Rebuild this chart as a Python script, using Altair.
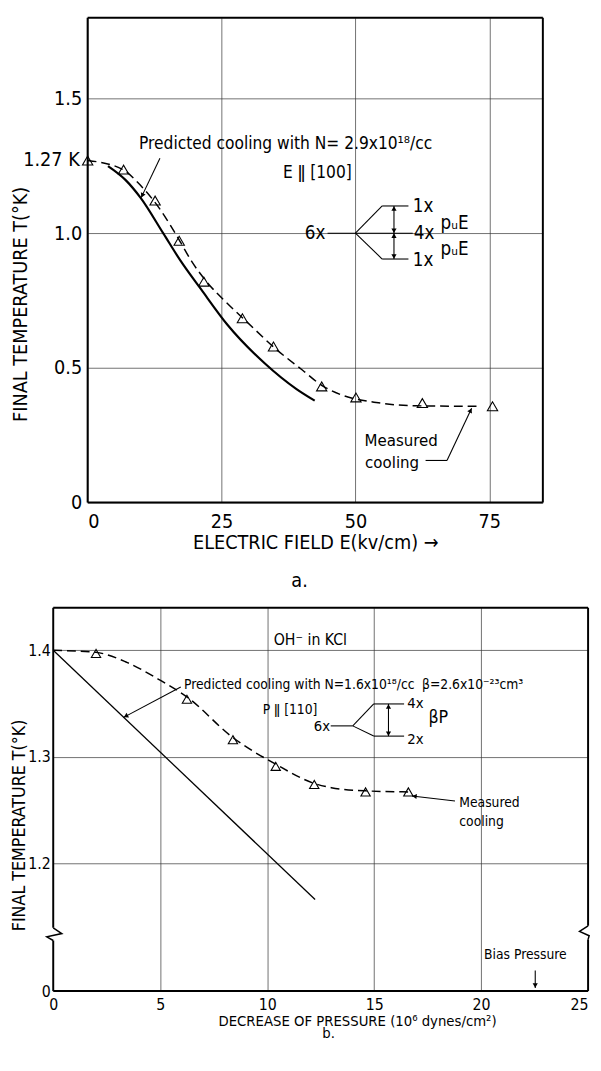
import math
import altair as alt
import pandas as pd

FONT = "Liberation Sans Narrow, DejaVu Sans Condensed, Liberation Sans, sans-serif"

# ---------------- Panel a: electric field ----------------
A_MEAS_X = [0, 6.7, 12.6, 17.1, 21.7, 28.9, 34.7, 43.7, 50.1, 62.5, 75.6]
A_MEAS_Y = [1.27, 1.236, 1.121, 0.972, 0.820, 0.684, 0.579, 0.431, 0.390, 0.369, 0.357]
A_DASH_X = [0, 6.4, 9.9, 13.4, 17.3, 19.4, 22.2, 26.1, 29.6, 35.2, 40.2, 43.7, 47.2, 54.3, 61.3, 73.0]
A_DASH_Y = [1.27, 1.238, 1.177, 1.092, 0.968, 0.896, 0.820, 0.739, 0.673, 0.569, 0.490, 0.435, 0.401, 0.370, 0.359, 0.357]
A_PRED_X = [3.8, 7.1, 9.9, 14.1, 17.4, 21.2, 26.1, 33.1, 39.0, 42.4]
A_PRED_Y = [1.249, 1.197, 1.131, 1.000, 0.896, 0.791, 0.660, 0.516, 0.421, 0.378]
A_XTICKS = [0, 25, 50, 75]
A_YTICKS = [0, 0.5, 1.0, 1.5]
A_XDOM = [0, 85]
A_YDOM = [0, 1.8]
A_FRAME = [(0, 0, 85, 0), (0, 1.8, 85, 1.8), (0, 0, 0, 1.8), (85, 0, 85, 1.8)]
A_DIAGRAM = [(44.8, 1.0, 60.7, 1.0), (50.0, 1.0, 55.0, 1.101), (55.0, 1.101, 59.9, 1.101),
             (50.0, 1.0, 55.0, 0.904), (55.0, 0.904, 59.9, 0.904), (57.2, 0.904, 57.2, 1.101)]
A_ARROWS = [(13.5, 1.278, 10.0, 1.132), (63.1, 0.156, 67.1, 0.156), (67.1, 0.156, 71.7, 0.35)]
# arrow heads: tip x, tip y, from x, from y
A_HEADS = [(10.0, 1.132, 13.5, 1.278), (71.7, 0.35, 67.1, 0.156),
           (57.2, 1.101, 57.2, 1.0), (57.2, 1.0, 57.2, 1.101),
           (57.2, 1.0, 57.2, 0.904), (57.2, 0.904, 57.2, 1.0)]
A_TEXT_PRED = [("Predicted  cooling with N= 2.9x10¹⁸/cc", 9.6, 1.329)]
A_TEXT_LEFT = [("Measured", 51.7, 0.229), ("cooling", 51.8, 0.147)]
A_TEXT_CENTER = [("E ǁ [100]", 42.9, 1.222)]
A_TEXT_DIAG_L = [("1x", 60.7, 1.101), ("4x", 60.9, 1.0), ("1x", 60.7, 0.90),
                 ("pᵤE", 65.9, 1.038), ("pᵤE", 65.9, 0.940)]
A_TEXT_DIAG_R = [("6x", 44.4, 1.0)]
A_TEXT_127 = [("1.27 K", 0, 1.27)]

# ---------------- Panel b: pressure ----------------
B_MEAS_X = [2.0, 6.25, 8.4, 10.4, 12.2, 14.6, 16.6]
B_MEAS_Y = [1.397, 1.354, 1.316, 1.291, 1.274, 1.267, 1.267]
B_DASH_X = [0, 2.0, 3.4, 4.9, 6.26, 8.4, 10.4, 12.2, 13.0, 14.6, 16.6]
B_DASH_Y = [1.4, 1.398, 1.389, 1.373, 1.356, 1.318, 1.293, 1.275, 1.271, 1.268, 1.267]
B_PRED_X = [0, 12.24]
B_PRED_Y = [1.4, 1.166]
B_XTICKS = [0, 5, 10, 15, 20, 25]
B_YTICKS = [1.08, 1.2, 1.3, 1.4]
B_XDOM = [0, 25]
B_YDOM = [1.08, 1.44]
B_FRAME = [(0, 1.44, 25, 1.44), (0, 1.08, 25, 1.08),
           (0, 1.1394, 0, 1.44), (0, 1.08, 0, 1.1275),
           (25, 1.1413, 25, 1.44), (25, 1.08, 25, 1.1285)]
B_BREAK_L = [(0, 1.1394), (0.4, 1.134), (-0.3, 1.131), (0, 1.1275)]
B_BREAK_R = [(25, 1.1413), (24.6, 1.136), (25.05, 1.132), (25, 1.1285)]
B_DIAGRAM = [(12.97, 1.329, 14.0, 1.329), (14.0, 1.329, 14.98, 1.3496), (14.98, 1.3496, 16.40, 1.3496),
             (14.0, 1.329, 14.98, 1.3194), (14.98, 1.3194, 16.40, 1.3194), (15.67, 1.3194, 15.67, 1.3496)]
B_ARROWS = [(5.96, 1.3656, 3.29, 1.337), (18.78, 1.2585, 16.77, 1.2632), (22.53, 1.0994, 22.53, 1.083)]
B_HEADS = [(3.29, 1.337, 5.96, 1.3656), (16.77, 1.2632, 18.78, 1.2585), (22.53, 1.083, 22.53, 1.0994),
           (15.67, 1.3496, 15.67, 1.33), (15.67, 1.3194, 15.67, 1.34)]
B_TEXT_LEFT = [("Predicted cooling with N=1.6x10¹⁸/cc", 6.11, 1.367),
               ("β=2.6x10⁻²³cm³", 17.24, 1.367),
               ("Measured", 18.98, 1.2567), ("cooling", 18.98, 1.2389)]
B_TEXT_LEVELS = [("4x", 16.55, 1.350), ("2x", 16.55, 1.3163)]
B_TEXT_OH = [("OH⁻ in KCl", 12.02, 1.410)]
B_TEXT_CENTER = [("P ǁ [110]", 11.07, 1.344), ("Bias Pressure", 22.07, 1.1138)]
B_TEXT_BIG = [("βP", 18.0, 1.3363)]
B_TEXT_RIGHT = [("6x", 12.94, 1.3286)]

A_W, A_H = 463, 493
B_W, B_H = 544, 390
A_SHIFT = 35  # top plot starts further right than the bottom plot


def seg_df(segs):
    return pd.DataFrame(segs, columns=["x", "y", "x2", "y2"])


def txt_df(rows):
    return pd.DataFrame(rows, columns=["t", "x", "y"])


def heads_df(heads, sx, sy, back=2.5):
    rows = []
    for xt, yt, xf, yf in heads:
        dxp = (xt - xf) * sx
        dyp = (yt - yf) * sy
        L = math.hypot(dxp, dyp)
        ang = math.degrees(math.atan2(dxp, dyp)) % 360
        rows.append({"x": xt - dxp / L * back / sx, "y": yt - dyp / L * back / sy, "ang": ang})
    return pd.DataFrame(rows)


def panel(xdom, ydom, w, h, xaxis, yaxis, parts):
    xs = alt.Scale(domain=xdom, nice=False, zero=False)
    ys = alt.Scale(domain=ydom, nice=False, zero=False)
    X = alt.X("x:Q", scale=xs, axis=xaxis)
    Y = alt.Y("y:Q", scale=ys, axis=yaxis)
    sx = w / (xdom[1] - xdom[0])
    sy = h / (ydom[1] - ydom[0])
    layers = []
    layers.append(alt.Chart(seg_df(parts["frame"])).mark_rule(color="black", strokeWidth=2)
                  .encode(x=X, y=Y, x2="x2:Q", y2="y2:Q"))
    layers.append(alt.Chart(seg_df(parts["diagram"] + parts["arrows"])).mark_rule(color="black", strokeWidth=1.1)
                  .encode(x=X, y=Y, x2="x2:Q", y2="y2:Q"))
    layers.append(alt.Chart(pd.DataFrame({"x": parts["dash_x"], "y": parts["dash_y"]}))
                  .mark_line(color="black", strokeWidth=1.5, strokeDash=[9, 5], interpolate="monotone")
                  .encode(x=X, y=Y))
    layers.append(alt.Chart(pd.DataFrame({"x": parts["pred_x"], "y": parts["pred_y"]}))
                  .mark_line(color="black", strokeWidth=parts["pred_w"], interpolate="monotone")
                  .encode(x=X, y=Y))
    layers.append(alt.Chart(pd.DataFrame({"x": parts["meas_x"], "y": parts["meas_y"]}))
                  .mark_point(shape="triangle-up", filled=False, color="black", size=parts["tri"],
                              strokeWidth=1.1, opacity=1)
                  .encode(x=X, y=Y))
    layers.append(alt.Chart(heads_df(parts["heads"], sx, sy))
                  .mark_point(shape="triangle-up", filled=True, color="black", size=28, opacity=1)
                  .encode(x=X, y=Y, angle=alt.Angle("ang:Q", scale=None)))
    for br in parts.get("breaks", []):
        df = pd.DataFrame([{"x": a, "y": b, "o": k} for k, (a, b) in enumerate(br)])
        layers.append(alt.Chart(df).mark_line(color="black", strokeWidth=1.5)
                      .encode(x=X, y=Y, order="o:Q"))
    for rows, align, size, dx in parts["texts"]:
        layers.append(alt.Chart(txt_df(rows))
                      .mark_text(align=align, baseline="middle", fontSize=size, font=FONT, color="black", dx=dx)
                      .encode(x=X, y=Y, text="t:N"))
    return alt.layer(*layers).properties(width=w, height=h)


top_x_axis = alt.Axis(values=A_XTICKS, title="ELECTRIC FIELD  E(kv/cm) →", labelFontSize=20, titleFontSize=20,
                      labelPadding=9, titlePadding=1.5, grid=True)
top_y_axis = alt.Axis(values=A_YTICKS, labelExpr="datum.value == 0 ? '0' : format(datum.value, '.1f')",
                      title="FINAL  TEMPERATURE  T(°K)", labelFontSize=20, titleFontSize=20,
                      labelPadding=6, titlePadding=24, titleY=291, grid=True)

top = panel(A_XDOM, A_YDOM, A_W, A_H, top_x_axis, top_y_axis, {
    "frame": A_FRAME, "diagram": A_DIAGRAM, "arrows": A_ARROWS, "heads": A_HEADS,
    "dash_x": A_DASH_X, "dash_y": A_DASH_Y, "pred_x": A_PRED_X, "pred_y": A_PRED_Y, "pred_w": 2.2,
    "meas_x": A_MEAS_X, "meas_y": A_MEAS_Y, "tri": 110,
    "texts": [(A_TEXT_PRED, "left", 17.5, 0), (A_TEXT_LEFT, "left", 17, 0), (A_TEXT_CENTER, "center", 17.5, 0),
              (A_TEXT_DIAG_L, "left", 19, 0), (A_TEXT_DIAG_R, "right", 19, 0),
              (A_TEXT_127, "right", 20, -8)],
}).properties(title=alt.TitleParams("a.", orient="bottom", fontSize=20, font=FONT, fontWeight="normal",
                                    offset=19, dx=-16))

grid_hide_x = {"condition": {"test": "datum.value == 0 || datum.value == 25", "value": 0}, "value": 1}
grid_hide_y = {"condition": {"test": "datum.value < 1.1", "value": 0}, "value": 1}
label_align_x = {"condition": {"test": "datum.value == 25", "value": "right"}, "value": "center"}

bot_x_axis = alt.Axis(values=B_XTICKS, title="DECREASE  OF  PRESSURE  (10⁶ dynes/cm²)", labelFontSize=16,
                      titleFontSize=15, labelPadding=6, titlePadding=1, titleX=309, grid=True,
                      gridOpacity=grid_hide_x, labelAlign=label_align_x)
bot_y_axis = alt.Axis(values=B_YTICKS, labelExpr="datum.value < 1.1 ? '0' : format(datum.value, '.1f')",
                      title="FINAL  TEMPERATURE  T(°K)", labelFontSize=16, titleFontSize=18,
                      labelPadding=3, titlePadding=-1, titleY=221, grid=True, gridOpacity=grid_hide_y)

bottom = panel(B_XDOM, B_YDOM, B_W, B_H, bot_x_axis, bot_y_axis, {
    "frame": B_FRAME, "diagram": B_DIAGRAM, "arrows": B_ARROWS, "heads": B_HEADS,
    "dash_x": B_DASH_X, "dash_y": B_DASH_Y, "pred_x": B_PRED_X, "pred_y": B_PRED_Y, "pred_w": 1.3,
    "meas_x": B_MEAS_X, "meas_y": B_MEAS_Y, "tri": 90,
    "breaks": [B_BREAK_L, B_BREAK_R],
    "texts": [(B_TEXT_LEFT, "left", 14, 0), (B_TEXT_LEVELS, "left", 15, 0), (B_TEXT_OH, "center", 16, 0),
              (B_TEXT_CENTER, "center", 14, 0), (B_TEXT_BIG, "center", 18, 0), (B_TEXT_RIGHT, "right", 15, 0)],
}).properties(title=alt.TitleParams("b.", orient="bottom", fontSize=15, font=FONT, fontWeight="normal",
                                    offset=-2, dx=8))

# invisible 1px spacer so that the upper plot is shifted right of the lower one
spacer = alt.Chart(pd.DataFrame({"s": [0]})).mark_point(size=1, opacity=0).properties(width=1, height=1)
top_row = alt.hconcat(spacer, top, spacing=A_SHIFT - 1, bounds="flush")

chart = alt.vconcat(top_row, bottom, spacing=16,
                    padding={"left": 2, "top": 0, "right": 0, "bottom": 0}).configure(
    font=FONT, background="white"
).configure_view(stroke=None).configure_axis(
    labelFont=FONT, titleFont=FONT, titleFontWeight="normal", ticks=False, domain=False,
    gridColor="#333333", gridWidth=0.7, labelColor="black", titleColor="black"
)

chart.save("out.html", embed_options={"renderer": "svg", "actions": False})
